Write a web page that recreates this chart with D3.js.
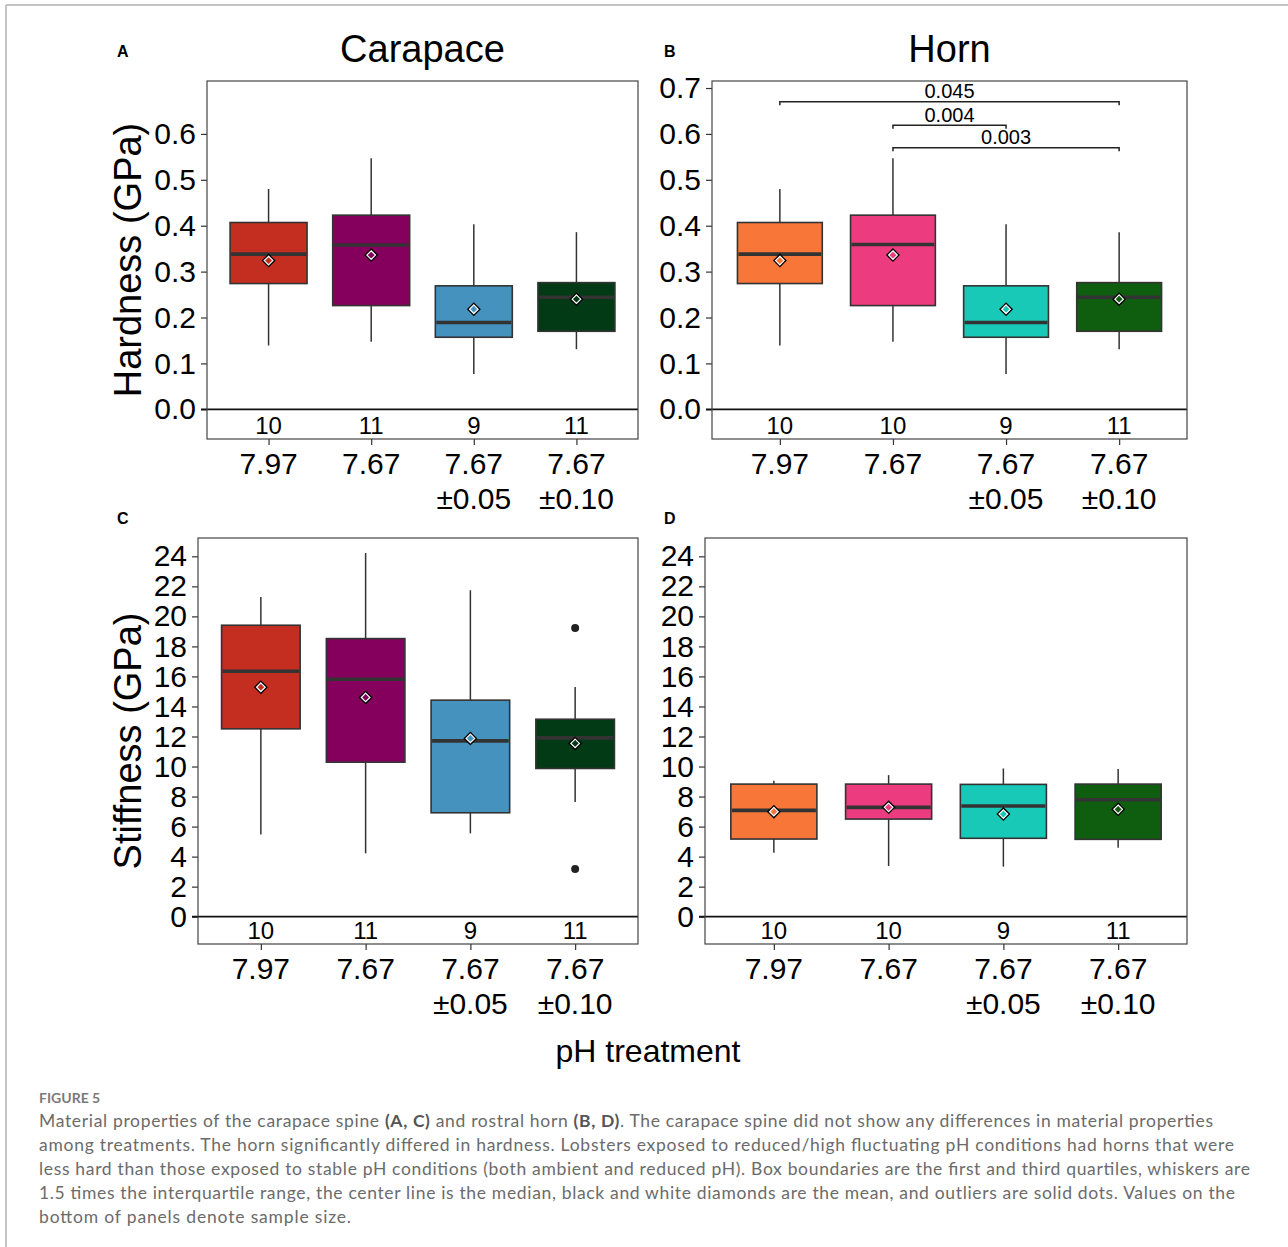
<!DOCTYPE html>
<html>
<head>
<meta charset="utf-8">
<script src="https://cdn.jsdelivr.net/npm/d3@7"></script>
<style>
  body { margin: 0; background: #fff; }
  svg { display: block; }
  .tick text { font-family: "Liberation Sans", Arial, sans-serif; }
</style>
</head>
<body>
<script>
// Section: data
// each box: [whisker low, Q1, median, Q3, whisker high, mean]
var phLabels = [['7.97'], ['7.67'], ['7.67', '±0.05'], ['7.67', '±0.10']];

var carapaceHardness = [
    [0.139, 0.274, 0.338, 0.407, 0.480, 0.324],
    [0.147, 0.226, 0.358, 0.423, 0.547, 0.336],
    [0.077, 0.157, 0.189, 0.269, 0.403, 0.218],
    [0.131, 0.170, 0.244, 0.276, 0.386, 0.240]
];
var hornHardness = [
    [0.139, 0.274, 0.338, 0.407, 0.480, 0.324],
    [0.147, 0.226, 0.359, 0.423, 0.547, 0.336],
    [0.077, 0.157, 0.189, 0.269, 0.403, 0.218],
    [0.131, 0.170, 0.244, 0.276, 0.386, 0.240]
];
var carapaceStiffness = [
    [5.48, 12.51, 16.35, 19.41, 21.29, 15.28],
    [4.22, 10.29, 15.81, 18.52, 24.22, 14.60],
    [5.55, 6.92, 11.71, 14.42, 21.74, 11.87],
    [7.63, 9.87, 11.91, 13.15, 15.30, 11.54]
];
var hornStiffness = [
    [4.26, 5.17, 7.08, 8.83, 9.05, 6.99],
    [3.37, 6.50, 7.28, 8.83, 9.43, 7.28],
    [3.33, 5.22, 7.37, 8.81, 9.87, 6.83],
    [4.59, 5.15, 7.79, 8.83, 9.83, 7.15]
];
var carapaceStiffOutliers = [[], [], [], [19.23, 3.17]];

var nCarapaceHardness = [10, 11, 9, 11];
var nHornHardness = [10, 10, 9, 11];
var nCarapaceStiffness = [10, 11, 9, 11];
var nHornStiffness = [10, 10, 9, 11];

var hornBrackets = [
    {from: 0, to: 3, value: 0.670, label: '0.045'},
    {from: 1, to: 2, value: 0.619, label: '0.004'},
    {from: 1, to: 3, value: 0.570, label: '0.003'}
];

var hardTicksA = [0, 0.1, 0.2, 0.3, 0.4, 0.5, 0.6];
var hardTicksB = [0, 0.1, 0.2, 0.3, 0.4, 0.5, 0.6, 0.7];
var stiffTicks = [0, 2, 4, 6, 8, 10, 12, 14, 16, 18, 20, 22, 24];

var carapaceColors = ['#c42e20', '#85005c', '#4592be', '#013a14'];
var hornColors = ['#f87738', '#ec3c7f', '#18c9b7', '#0f5e10'];

// Section: layout
var svg = d3.select('body').append('svg')
    .attr('width', 1288)
    .attr('height', 1247);

var FONT = '"Liberation Sans", Arial, sans-serif';

// page frame
svg.append('line').attr('x1', 6).attr('x2', 1288).attr('y1', 5).attr('y2', 5)
    .attr('stroke', '#c4c4c4').attr('stroke-width', 2);
svg.append('line').attr('x1', 6).attr('x2', 6).attr('y1', 5).attr('y2', 1247)
    .attr('stroke', '#c4c4c4').attr('stroke-width', 2);

var panels = [
    {letter: 'A', left: 207, right: 638, top: 81, bottom: 439, domain: [-0.0647, 0.7153],
     ticks: hardTicksA, fmt: d3.format('.1f'), stats: carapaceHardness, n: nCarapaceHardness,
     colors: carapaceColors, title: 'Carapace', ylab: 'Hardness (GPa)'},
    {letter: 'B', left: 712, right: 1187, top: 81, bottom: 439, domain: [-0.0647, 0.7153],
     ticks: hardTicksB, fmt: d3.format('.1f'), stats: hornHardness, n: nHornHardness,
     colors: hornColors, title: 'Horn', brackets: hornBrackets},
    {letter: 'C', left: 198, right: 638, top: 538, bottom: 944, domain: [-1.82, 25.22],
     ticks: stiffTicks, fmt: d3.format('d'), stats: carapaceStiffness, n: nCarapaceStiffness,
     colors: carapaceColors, outliers: carapaceStiffOutliers, ylab: 'Stiffness (GPa)'},
    {letter: 'D', left: 705, right: 1187, top: 538, bottom: 944, domain: [-1.82, 25.22],
     ticks: stiffTicks, fmt: d3.format('d'), stats: hornStiffness, n: nHornStiffness,
     colors: hornColors}
];

function diamond(r) {
    return 'M0,' + (-r) + 'L' + r + ',0L0,' + r + 'L' + (-r) + ',0Z';
}

panels.forEach(function(p) {
    var g = svg.append('g');
    var x = d3.scalePoint().domain(d3.range(4)).range([p.left, p.right]).padding(0.6);
    var y = d3.scaleLinear().domain(p.domain).range([p.bottom, p.top]);
    var bw = x.step() * 0.75;

    // y axis
    var yAxis = g.append('g')
        .attr('transform', 'translate(' + p.left + ',0)')
        .call(d3.axisLeft(y).tickValues(p.ticks).tickFormat(p.fmt).tickSize(6).tickPadding(5));
    yAxis.select('.domain').remove();
    yAxis.selectAll('.tick line').attr('stroke', '#333').attr('stroke-width', 1.2);
    yAxis.selectAll('.tick text').attr('font-size', 30).attr('fill', '#000');

    // x axis ticks (labels drawn by hand for the two-line pH labels)
    var xAxis = g.append('g')
        .attr('transform', 'translate(0,' + p.bottom + ')')
        .call(d3.axisBottom(x).tickSize(6).tickFormat(''));
    xAxis.select('.domain').remove();
    xAxis.selectAll('.tick line').attr('stroke', '#333').attr('stroke-width', 1.2);

    var xl = g.selectAll('.phlab').data(phLabels).enter()
        .append('text')
        .attr('class', 'phlab')
        .attr('text-anchor', 'middle')
        .attr('font-family', FONT)
        .attr('font-size', 30)
        .attr('fill', '#000');
    xl.each(function(lines, i) {
        d3.select(this).selectAll('tspan').data(lines).enter()
            .append('tspan')
            .attr('x', x(i))
            .attr('y', function(d, j) { return p.bottom + 35 + j * 34.5; })
            .text(function(d) { return d; });
    });

    // zero line
    g.append('line')
        .attr('x1', p.left - 6).attr('x2', p.right)
        .attr('y1', y(0)).attr('y2', y(0))
        .attr('stroke', '#111').attr('stroke-width', 1.8);

    // sample sizes
    g.selectAll('.nlab').data(p.n).enter()
        .append('text')
        .attr('x', function(d, i) { return x(i); })
        .attr('y', p.bottom - 5.5)
        .attr('text-anchor', 'middle')
        .attr('font-family', FONT)
        .attr('font-size', 24)
        .text(function(d) { return d; });

    // boxes
    var box = g.selectAll('.box').data(p.stats).enter()
        .append('g').attr('class', 'box');
    box.append('line')
        .attr('x1', function(d, i) { return x(i); }).attr('x2', function(d, i) { return x(i); })
        .attr('y1', function(d) { return y(d[0]); }).attr('y2', function(d) { return y(d[1]); })
        .attr('stroke', '#333').attr('stroke-width', 1.5);
    box.append('line')
        .attr('x1', function(d, i) { return x(i); }).attr('x2', function(d, i) { return x(i); })
        .attr('y1', function(d) { return y(d[3]); }).attr('y2', function(d) { return y(d[4]); })
        .attr('stroke', '#333').attr('stroke-width', 1.5);
    box.append('rect')
        .attr('x', function(d, i) { return x(i) - bw / 2; })
        .attr('width', bw)
        .attr('y', function(d) { return y(d[3]); })
        .attr('height', function(d) { return y(d[1]) - y(d[3]); })
        .attr('fill', function(d, i) { return p.colors[i]; })
        .attr('stroke', '#333').attr('stroke-width', 1.6);
    box.append('line')
        .attr('x1', function(d, i) { return x(i) - bw / 2 + 1; })
        .attr('x2', function(d, i) { return x(i) + bw / 2 - 1; })
        .attr('y1', function(d) { return y(d[2]); }).attr('y2', function(d) { return y(d[2]); })
        .attr('stroke', '#333').attr('stroke-width', 3.6);

    // outliers
    if (p.outliers) {
        p.outliers.forEach(function(vals, i) {
            g.selectAll('.out' + i).data(vals).enter()
                .append('circle')
                .attr('cx', x(i)).attr('cy', function(d) { return y(d); })
                .attr('r', 4).attr('fill', '#222');
        });
    }

    // means
    box.append('path')
        .attr('transform', function(d, i) { return 'translate(' + x(i) + ',' + y(d[5]) + ')'; })
        .attr('d', diamond(7))
        .attr('fill', '#000');
    box.append('path')
        .attr('transform', function(d, i) { return 'translate(' + x(i) + ',' + y(d[5]) + ')'; })
        .attr('d', diamond(4.3))
        .attr('fill', function(d, i) { return p.colors[i]; })
        .attr('stroke', '#fff').attr('stroke-width', 1.2);

    // significance brackets
    if (p.brackets) {
        p.brackets.forEach(function(b) {
            var yy = y(b.value);
            g.append('path')
                .attr('d', 'M' + x(b.from) + ',' + (yy + 3.5) + 'V' + yy + 'H' + x(b.to) + 'V' + (yy + 3.5))
                .attr('fill', 'none').attr('stroke', '#222').attr('stroke-width', 1.5);
            g.append('text')
                .attr('x', (x(b.from) + x(b.to)) / 2)
                .attr('y', yy - 3.5)
                .attr('text-anchor', 'middle')
                .attr('font-family', FONT)
                .attr('font-size', 20)
                .text(b.label);
        });
    }

    // panel border
    g.append('rect')
        .attr('x', p.left).attr('y', p.top)
        .attr('width', p.right - p.left).attr('height', p.bottom - p.top)
        .attr('fill', 'none').attr('stroke', '#444').attr('stroke-width', 1.2);

    // panel letter
    g.append('text')
        .attr('x', p.left < 400 ? 117 : 664)
        .attr('y', p.top < 300 ? 57 : 524)
        .attr('font-family', FONT).attr('font-weight', 'bold').attr('font-size', 16)
        .text(p.letter);

    if (p.title) {
        g.append('text')
            .attr('x', (p.left + p.right) / 2).attr('y', 62)
            .attr('text-anchor', 'middle')
            .attr('font-family', FONT).attr('font-size', 38)
            .text(p.title);
    }
    if (p.ylab) {
        g.append('text')
            .attr('transform', 'translate(141,' + ((p.top + p.bottom) / 2) + ')rotate(-90)')
            .attr('text-anchor', 'middle')
            .attr('font-family', FONT).attr('font-size', 38)
            .text(p.ylab);
    }
});

svg.append('text')
    .attr('x', 648).attr('y', 1062)
    .attr('text-anchor', 'middle')
    .attr('font-family', FONT).attr('font-size', 32)
    .text('pH treatment');

// Section: caption
var CAP = 'Lato, "Open Sans", sans-serif';
svg.append('text')
    .attr('x', 39).attr('y', 1103)
    .attr('font-family', CAP).attr('font-size', 14).attr('font-weight', 'bold')
    .attr('fill', '#7a7a7a')
    .text('FIGURE 5');

var captionLines = [
    [['Material properties of the carapace spine ', 0], ['(A, C)', 1], [' and rostral horn ', 0], ['(B, D)', 1],
     ['. The carapace spine did not show any differences in material properties', 0]],
    [['among treatments. The horn significantly differed in hardness. Lobsters exposed to reduced/high fluctuating pH conditions had horns that were', 0]],
    [['less hard than those exposed to stable pH conditions (both ambient and reduced pH). Box boundaries are the first and third quartiles, whiskers are', 0]],
    [['1.5 times the interquartile range, the center line is the median, black and white diamonds are the mean, and outliers are solid dots. Values on the', 0]],
    [['bottom of panels denote sample size.', 0]]
];
var captionWidths = [1174, 1195, 1211, 1196, 312];

captionLines.forEach(function(parts, i) {
    var t = svg.append('text')
        .attr('x', 39).attr('y', 1127 + i * 24)
        .attr('font-family', CAP).attr('font-size', 17.5)
        .attr('fill', '#6b6b6b')
        .attr('textLength', captionWidths[i])
        .attr('lengthAdjust', 'spacing');
    parts.forEach(function(pt) {
        t.append('tspan')
            .attr('font-weight', pt[1] ? 'bold' : null)
            .attr('fill', pt[1] ? '#555' : null)
            .text(pt[0]);
    });
});
</script>
</body>
</html>
